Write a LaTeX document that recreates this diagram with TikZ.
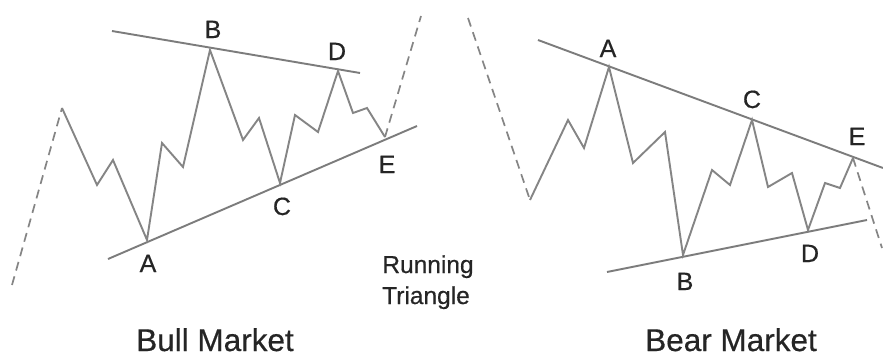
\documentclass[tikz,border=0pt]{standalone}
\usepackage{fontspec}
\setmainfont{Liberation Sans}
\newfontfamily\heavyfont{Liberation Sans}[UprightFeatures={FakeBold=0.5}]
\definecolor{wave}{HTML}{858585}
\definecolor{trend}{HTML}{7C7C7C}
\definecolor{txt}{HTML}{252525}
\begin{document}
\begin{tikzpicture}[x=1pt,y=-1pt,
  wavestyle/.style={draw=wave,line width=1.9pt,line join=miter},
  dashstyle/.style={draw=wave,line width=1.7pt,dash pattern=on 9pt off 6pt},
  trendline/.style={draw=trend,line width=1.9pt},
  lbl/.style={text=txt,font=\heavyfont\fontsize{25}{25}\selectfont,inner sep=0pt,anchor=base},
  title/.style={text=txt,font=\heavyfont\fontsize{31.5}{31.5}\selectfont,inner sep=0pt,anchor=base},
  sub/.style={text=txt,font=\heavyfont\fontsize{24.5}{24.5}\selectfont,inner sep=0pt,anchor=base}]
\useasboundingbox[fill=white] (0,0) rectangle (883,356);
% ---------- Bull market ----------
\coordinate (l0) at (12,285);
\coordinate (l1) at (62,108);
\coordinate (l2) at (97,185);
\coordinate (l3) at (113,160);
\coordinate (lA) at (147,240);
\coordinate (l5) at (162,143);
\coordinate (l6) at (183,167);
\coordinate (lB) at (210,50);
\coordinate (l8) at (243,140);
\coordinate (l9) at (259,118);
\coordinate (lC) at (280,183);
\coordinate (l11) at (295,115);
\coordinate (l12) at (318,132);
\coordinate (lD) at (338,71);
\coordinate (l14) at (353,113);
\coordinate (l15) at (367,108);
\coordinate (lE) at (385,137);
\coordinate (lend) at (421,16);
\coordinate (lu1) at (112,31);
\coordinate (lu2) at (360,73);
\coordinate (ll1) at (108,259);
\coordinate (ll2) at (417,126);
\draw[trendline] (lu1) -- (lu2);
\draw[trendline] (ll1) -- (ll2);
\draw[dashstyle] (l0) -- (l1);
\draw[wavestyle] (l1) -- (l2) -- (l3) -- (lA) -- (l5) -- (l6) -- (lB) -- (l8) -- (l9) -- (lC) -- (l11) -- (l12) -- (lD) -- (l14) -- (l15) -- (lE);
\draw[dashstyle] (lE) -- (lend);
\node[lbl] (tlB) at (213,38) {B};
\node[lbl] (tlD) at (337,60) {D};
\node[lbl] (tlE) at (387,173) {E};
\node[lbl] (tlC) at (282,215) {C};
\node[lbl] (tlA) at (148,272) {A};
\node[title] (bull) at (215,351) {Bull Market};
% ---------- Middle ----------
\node[sub] (run) at (428,273) {Running};
\node[sub] (tri) at (426,304) {Triangle};
% ---------- Bear market ----------
\coordinate (r0) at (468,18);
\coordinate (r1) at (530,200);
\coordinate (r2) at (568,120);
\coordinate (r3) at (584,148);
\coordinate (rA) at (609,67);
\coordinate (r5) at (633,163);
\coordinate (r6) at (665,132);
\coordinate (rB) at (683,255);
\coordinate (r8) at (712,170);
\coordinate (r9) at (730,185);
\coordinate (rC) at (752,120);
\coordinate (r11) at (768,187);
\coordinate (r12) at (792,173);
\coordinate (rD) at (808,230);
\coordinate (r14) at (825,183);
\coordinate (r15) at (840,188);
\coordinate (rE) at (853,158);
\coordinate (rend) at (882,248);
\coordinate (ru1) at (538,40);
\coordinate (ru2) at (883,168);
\coordinate (rl1) at (607,272);
\coordinate (rl2) at (867,220);
\draw[trendline] (ru1) -- (ru2);
\draw[trendline] (rl1) -- (rl2);
\draw[dashstyle] (r0) -- (r1);
\draw[wavestyle] (r1) -- (r2) -- (r3) -- (rA) -- (r5) -- (r6) -- (rB) -- (r8) -- (r9) -- (rC) -- (r11) -- (r12) -- (rD) -- (r14) -- (r15) -- (rE);
\draw[dashstyle] (rE) -- (rend);
\node[lbl] (trA) at (608,57) {A};
\node[lbl] (trC) at (752,108) {C};
\node[lbl] (trE) at (857,145) {E};
\node[lbl] (trD) at (810,262) {D};
\node[lbl] (trB) at (685,290) {B};
\node[title] (bear) at (731,351) {Bear Market};
\end{tikzpicture}
\end{document}
